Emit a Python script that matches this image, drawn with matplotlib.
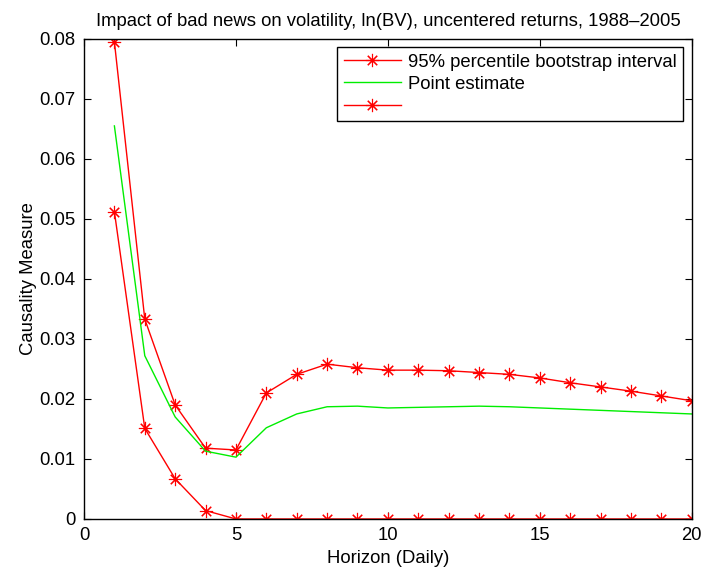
import matplotlib
matplotlib.use("Agg")
from matplotlib import pyplot as plt
import numpy as np

plt.rcParams['font.family'] = ['Liberation Sans', 'DejaVu Sans']

horizon = np.arange(1, 21)
upper = [0.0795, 0.0333, 0.0190, 0.0118, 0.0115, 0.0210, 0.0241, 0.0258, 0.0252, 0.0248,
         0.0248, 0.0247, 0.0244, 0.0241, 0.0235, 0.0227, 0.0220, 0.0213, 0.0205, 0.0197]
point = [0.0655, 0.0272, 0.0170, 0.0113, 0.0103, 0.0152, 0.0175, 0.0187, 0.0188, 0.0185,
         0.0186, 0.0187, 0.0188, 0.0187, 0.0185, 0.0183, 0.0181, 0.0179, 0.0177, 0.0175]
lower = [0.0512, 0.0151, 0.0067, 0.0014, 0.0, 0.0, 0.0, 0.0, 0.0, 0.0,
         0.0, 0.0, 0.0, 0.0, 0.0, 0.0, 0.0, 0.0, 0.0, 0.0]

fs = 13.3
star = (8, 2, 0)  # matlab-style asterisk

fig = plt.figure(figsize=(7.03, 5.72), dpi=100)
ax = fig.add_axes([0.1195, 0.0927, 0.8645, 0.8393])

ax.plot(horizon, upper, color="red", marker=star, markersize=9.5, markeredgewidth=0.8,
        linewidth=1, label="95% percentile bootstrap interval")
ax.plot(horizon, point, color="#00ee00", linewidth=1, label="Point estimate")
ax.plot(horizon, lower, color="red", marker=star, markersize=9.5, markeredgewidth=0.8,
        linewidth=1, label=" ")

ax.set_xlim(0, 20)
ax.set_ylim(0, 0.08)
ax.set_xticks([0, 5, 10, 15, 20])
ax.set_yticks(np.arange(0, 0.081, 0.01))
ax.set_yticklabels(["0"] + ["%.2f" % v for v in np.arange(0.01, 0.081, 0.01)])
ax.tick_params(direction="in", top=True, right=True, labelsize=fs, length=5, pad=6)
for s in ax.spines.values():
    s.set_linewidth(1)

ax.set_xlabel("Horizon (Daily)", fontsize=fs)
ax.set_ylabel("Causality Measure", fontsize=fs, labelpad=1.5)
ax.set_title("Impact of bad news on volatility, ln(BV), uncentered returns, 1988\u20132005",
             fontsize=fs, pad=9)

leg = ax.legend(loc="upper right", fontsize=fs, fancybox=False, edgecolor="black",
                framealpha=1, borderaxespad=0.45, handlelength=3.1, handletextpad=0.4,
                labelspacing=0.28, borderpad=0.35)
leg.get_frame().set_linewidth(1)

fig.savefig("out.png", dpi=100)
